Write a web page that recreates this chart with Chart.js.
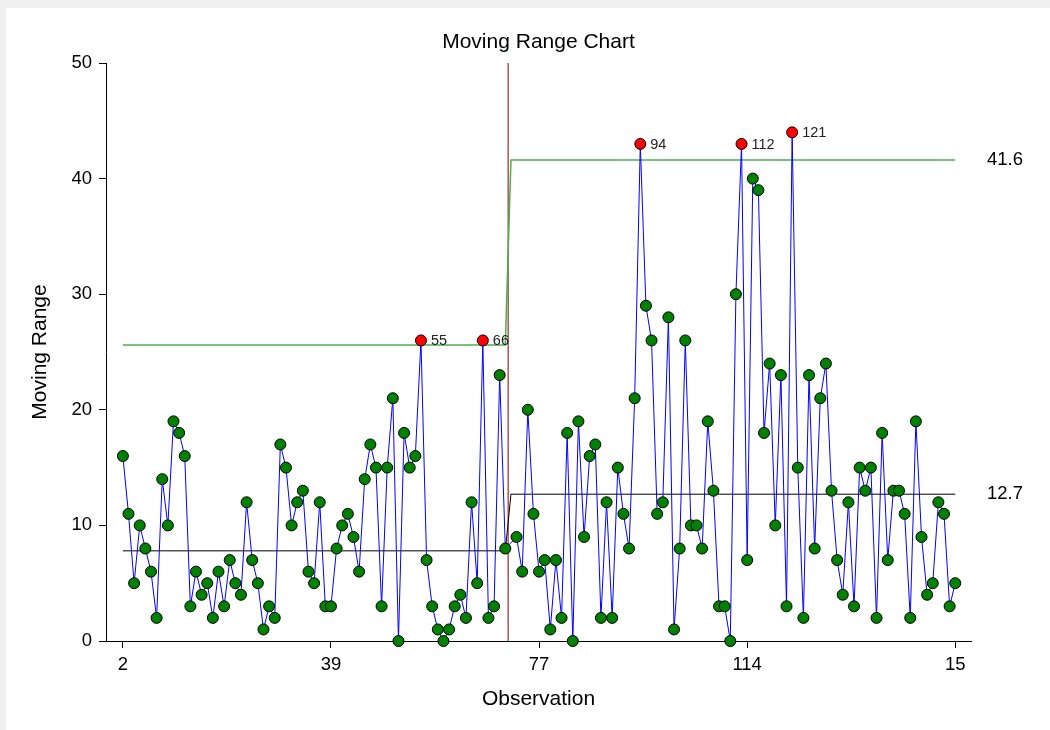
<!DOCTYPE html>
<html>
<head>
<meta charset="utf-8">
<title>Moving Range Chart</title>
<script src="https://cdn.jsdelivr.net/npm/chart.js@4.4.0/dist/chart.umd.min.js"></script>
<style>
    html, body { margin: 0; padding: 0; background: #f0f0f0; }
    #panel { position: absolute; left: 6px; top: 8px; width: 1044px; height: 722px; background: #fff; }
</style>
</head>
<body>
<div id="panel"><canvas id="mrChart" width="1044" height="722"></canvas></div>
<script>
// moving ranges, observation 2 .. 150 (null = start of phase 2, no range)
const movingRange = [
    16, 11, 5, 10, 8, 6, 2, 14, 10, 19, 18, 16, 3, 6, 4, 5, 2, 6, 3, 7, 5, 4, 12, 7, 5,
    1, 3, 2, 17, 15, 10, 12, 13, 6, 5, 12, 3, 3, 8, 10, 11, 9, 6, 14, 17, 15, 3, 15, 21, 0,
    18, 15, 16, 26, 7, 3, 1, 0, 1, 3, 4, 2, 12, 5, 26, 2, 3, 23, 8,
    null,
    9, 6, 20, 11, 6, 7, 1, 7, 2, 18, 0, 19, 9, 16, 17, 2, 12, 2, 15, 11, 8, 21,
    43, 29, 26, 11, 12, 28, 1, 8, 26, 10, 10, 8, 19, 13, 3, 3, 0, 30,
    43, 7, 40, 39, 18, 24, 10, 23, 3, 44, 15, 2, 23, 8, 21, 24, 13, 7, 4, 12, 3, 15,
    13, 15, 2, 18, 7, 13, 13, 11, 2, 19, 9, 4, 5, 12, 11, 3, 5
];
const firstObs = 2;
const observations = movingRange.map((v, i) => firstObs + i);

// two phases: limits change at observation 71
const phaseStart = [2, 71];
const phaseEnd = [70, 150];
const phaseUCL = [25.6, 41.6];
const phaseCL = [7.8, 12.7];
const phaseSplit = 70.5;

const xTickValues = [2, 39, 76, 113, 150];
const xTickLabels = ['2', '39', '77', '114', '15'];
const yTickLabels = ['0', '10', '20', '30', '40', '50'];

const FONT = "'Liberation Sans', Arial, sans-serif";
Chart.defaults.font.family = FONT;
Chart.defaults.color = '#000';

function phaseOf(obs) { return obs <= phaseEnd[0] ? 0 : 1; }
function isOut(i) {
    const v = movingRange[i];
    return v !== null && v > phaseUCL[phaseOf(observations[i])];
}

function stepLine(levels) {
    const pts = [];
    levels.forEach((lv, p) => {
        pts.push({ x: phaseStart[p], y: lv });
        pts.push({ x: phaseEnd[p], y: lv });
    });
    return pts;
}

const labelPlugin = {
    id: 'mrLabels',
    afterDraw(chart) {
        const ctx = chart.ctx;
        const area = chart.chartArea;
        const meta = chart.getDatasetMeta(0);
        const yScale = chart.scales.y;
        ctx.save();
        ctx.textBaseline = 'middle';

        // title, centred over the plot area
        ctx.fillStyle = '#000';
        ctx.font = `21px ${FONT}`;
        ctx.textAlign = 'center';
        ctx.fillText('Moving Range Chart', (area.left + area.right) / 2, 34);

        // out-of-limit point numbers
        ctx.fillStyle = '#222';
        ctx.font = `14.5px ${FONT}`;
        ctx.textAlign = 'left';
        movingRange.forEach((v, i) => {
            if (!isOut(i)) return;
            const pt = meta.data[i];
            ctx.fillText(String(observations[i]), pt.x + 10, pt.y + 1);
        });

        // limit values at right of the plot
        ctx.fillStyle = '#000';
        ctx.font = `18.5px ${FONT}`;
        ctx.textAlign = 'center';
        const last = phaseUCL.length - 1;
        const xr = area.right + 34;
        ctx.fillText(phaseUCL[last].toFixed(1), xr, yScale.getPixelForValue(phaseUCL[last]));
        ctx.fillText(phaseCL[last].toFixed(1), xr, yScale.getPixelForValue(phaseCL[last]));
        ctx.restore();
    }
};

const ctx = document.getElementById('mrChart').getContext('2d');
const mrChart = new Chart(ctx, {
    type: 'scatter',
    data: {
        datasets: [
            {
                data: observations.map((o, i) => ({ x: o, y: movingRange[i] })),
                showLine: true,
                spanGaps: true,
                borderColor: '#0000ff',
                borderWidth: 1,
                pointRadius: 5.5,
                pointBorderWidth: 1,
                pointBorderColor: '#000',
                pointBackgroundColor: movingRange.map((v, i) => isOut(i) ? '#ff0000' : '#008000'),
                clip: false
            },
            {
                data: stepLine(phaseUCL),
                showLine: true,
                borderColor: '#4caf50',
                borderWidth: 1.5,
                pointRadius: 0
            },
            {
                data: stepLine(phaseCL),
                showLine: true,
                borderColor: '#000',
                borderWidth: 1,
                pointRadius: 0
            },
            {
                data: [{ x: phaseSplit, y: 0 }, { x: phaseSplit, y: 50 }],
                showLine: true,
                borderColor: '#8b0000',
                borderWidth: 1,
                pointRadius: 0
            }
        ]
    },
    options: {
        responsive: false,
        animation: false,
        events: [],
        layout: { padding: { top: 55, right: 79, left: 0, bottom: 0 } },
        plugins: {
            legend: { display: false },
            tooltip: { enabled: false },
            title: { display: false }
        },
        scales: {
            x: {
                type: 'linear',
                min: -1,
                max: 152.8,
                border: { display: true, color: '#000', width: 1 },
                grid: { drawOnChartArea: false, drawTicks: true, tickLength: 7, color: '#000' },
                afterBuildTicks: s => { s.ticks = xTickValues.map(v => ({ value: v })); },
                afterFit: s => { s.height = 89; },
                ticks: {
                    autoSkip: false,
                    maxRotation: 0,
                    padding: 6,
                    font: { size: 18.5 },
                    callback: (v, i) => xTickLabels[i]
                },
                title: {
                    display: true,
                    text: 'Observation',
                    font: { size: 21 },
                    padding: { top: 0, bottom: 18 }
                }
            },
            y: {
                min: 0,
                max: 50,
                border: { display: true, color: '#000', width: 1 },
                grid: { drawOnChartArea: false, drawTicks: true, tickLength: 7, color: '#000' },
                afterFit: s => { s.width = 100; },
                ticks: {
                    stepSize: 10,
                    padding: 7,
                    font: { size: 18.5 },
                    callback: (v, i) => yTickLabels[i]
                },
                title: {
                    display: true,
                    text: 'Moving Range',
                    font: { size: 21 },
                    padding: { top: 22, bottom: 0 }
                }
            }
        }
    },
    plugins: [labelPlugin]
});
</script>
</body>
</html>
